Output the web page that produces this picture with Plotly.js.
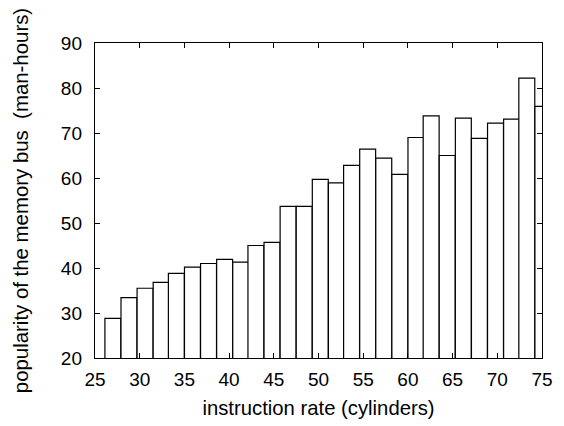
<!DOCTYPE html>
<html><head><meta charset="utf-8">
<script src="https://cdn.plot.ly/plotly-3.0.1.min.js"></script>
<style>html,body{margin:0;padding:0;background:#fff}#c{width:564px;height:426px}</style>
</head><body><div id="c"></div>
<script>
const xPositions = [27.0, 28.8, 30.6, 32.4, 34.1, 35.9, 37.7, 39.5, 41.3, 43.0, 44.8, 46.6, 48.4, 50.2,
                    52.0, 53.7, 55.5, 57.3, 59.1, 60.9, 62.6, 64.4, 66.2, 68.0, 69.8, 71.6, 73.3, 75.1];
const popularity = [28.8, 33.4, 35.5, 36.8, 38.8, 40.2, 41.0, 41.9, 41.3, 45.0, 45.7, 53.7, 53.7, 59.7,
                    58.9, 62.8, 66.4, 64.4, 60.8, 69.0, 73.8, 65.0, 73.3, 68.8, 72.2, 73.1, 82.2, 75.9];
const xTicks = [25, 30, 35, 40, 45, 50, 55, 60, 65, 70, 75];
const yTicks = [20, 30, 40, 50, 60, 70, 80, 90];

const fam = 'Liberation Sans, Arial, sans-serif';
const tickFont = {family: fam, size: 19, color: '#000'};
const titleFont = {family: fam, size: 20.3, color: '#000'};
Plotly.newPlot('c', [{
  type: 'bar', x: xPositions, y: popularity, width: 1.784,
  marker: {color: '#fff', line: {color: '#000', width: 1.2}},
  hoverinfo: 'skip'
}], {
  width: 564, height: 426,
  margin: {l: 95, r: 22, t: 43, b: 68},
  paper_bgcolor: '#fff', plot_bgcolor: '#fff',
  showlegend: false, bargap: 0,
  font: tickFont,
  xaxis: {range: [25, 75], tickvals: xTicks, ticktext: xTicks.map(String),
    ticks: 'inside', ticklen: 5, tickcolor: '#000', showline: true, linecolor: '#000', linewidth: 1.2,
    mirror: 'ticks', showgrid: false, zeroline: false, tickfont: tickFont, ticklabelstandoff: 4,
    title: {text: 'instruction rate (cylinders)', font: titleFont, standoff: 11}},
  yaxis: {range: [20, 90], tickvals: yTicks, ticktext: yTicks.map(String),
    ticks: 'inside', ticklen: 5, tickcolor: '#000', showline: true, linecolor: '#000', linewidth: 1.2,
    mirror: 'ticks', showgrid: false, zeroline: false, tickfont: tickFont, ticklabelstandoff: 8,
    title: {text: 'popularity of the memory bus\u00a0 (man-hours)', font: {family: fam, size: 20.4, color: '#000'}, standoff: 26}}
}, {displayModeBar: false, staticPlot: true});
</script></body></html>
